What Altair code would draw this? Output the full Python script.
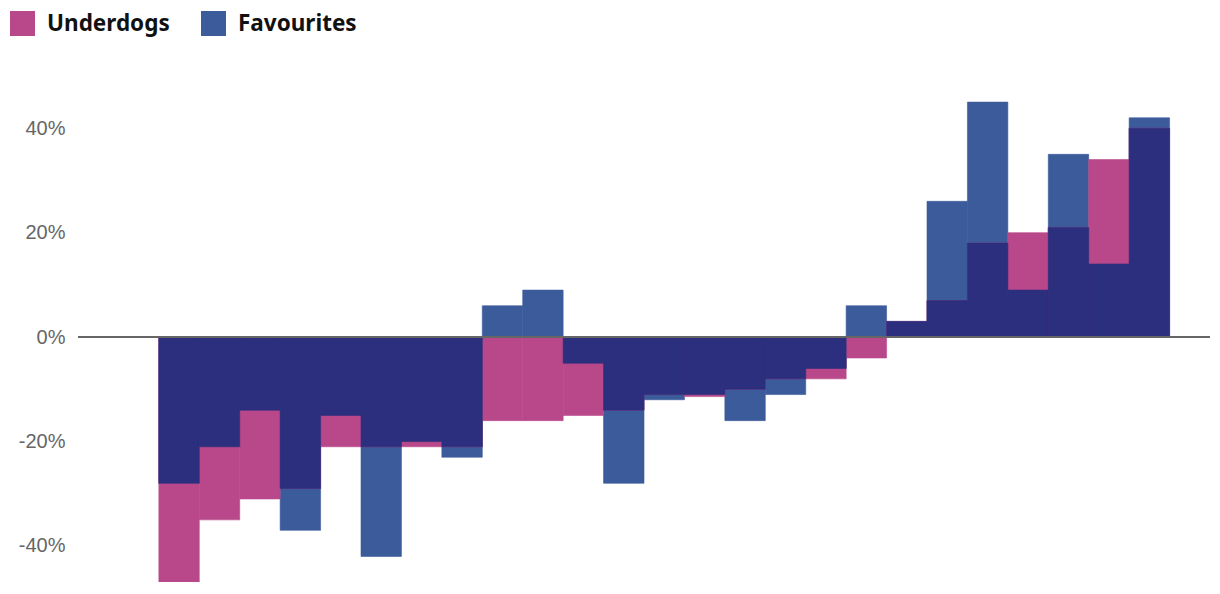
import altair as alt
import pandas as pd

# values in percent, one per column (left to right)
underdogs = [-47, -35, -31, -29, -21, -21, -21, -21, -16, -16, -15, -14, -11, -11.4,
             -10, -8, -8, -4, 3, 7, 18, 20, 21, 34, 40]
favourites = [-28, -21, -14, -37, -15, -42, -20, -23, 6, 9, -5, -28, -12, -11,
              -16, -11, -6, 6, 3, 26, 45, 9, 35, 14, 42]
y_ticks = [-40, -20, 0, 20, 40]

PINK = "#B9488A"
BLUE = "#3B5B9B"
NAVY = "#2B2F7E"

rows = []
overlap = []
for i, (u, f) in enumerate(zip(underdogs, favourites)):
    rows.append({"x": i, "x2": i + 1, "v": u, "series": "Underdogs"})
    rows.append({"x": i, "x2": i + 1, "v": f, "series": "Favourites"})
    if u * f > 0:
        m = min(abs(u), abs(f)) * (1 if u > 0 else -1)
        overlap.append({"x": i, "x2": i + 1, "v": m})

df = pd.DataFrame(rows)
df_ov = pd.DataFrame(overlap)

xscale = alt.Scale(domain=[-2, 26], nice=False, zero=False)
yscale = alt.Scale(domain=[-46.9, 50], nice=False)
cscale = alt.Scale(domain=["Underdogs", "Favourites"], range=[PINK, BLUE])

bars = alt.Chart(df).mark_rect(strokeWidth=0.6, clip=True).encode(
    x=alt.X("x:Q", scale=xscale, axis=None),
    x2="x2:Q",
    y=alt.Y("v:Q", scale=yscale,
            axis=alt.Axis(values=y_ticks, labelExpr="datum.value + '%'",
                          domain=False, ticks=False, grid=False, title=None,
                          labelFontSize=20, labelColor="#666666",
                          labelFont="Liberation Sans", labelPadding=13)),
    y2=alt.datum(0),
    color=alt.Color("series:N", scale=cscale,
                    legend=alt.Legend(orient="none", legendX=-68, legendY=-65,
                                      direction="horizontal", title=None,
                                      symbolType="square", symbolSize=625,
                                      symbolStrokeWidth=0, symbolOpacity=1,
                                      labelFontSize=22.5, labelFontWeight="bold",
                                      labelFont="Noto Sans", labelColor="#111111",
                                      columnPadding=31, labelOffset=12)),
    stroke=alt.Stroke("series:N", scale=cscale, legend=None),
    order=alt.Order("series:N"),
)

ov = alt.Chart(df_ov).mark_rect(color=NAVY, stroke=NAVY, strokeWidth=0.6, clip=True).encode(
    x=alt.X("x:Q", scale=xscale),
    x2="x2:Q",
    y=alt.Y("v:Q", scale=yscale),
    y2=alt.datum(0),
)

zero = alt.Chart(pd.DataFrame({"y": [0]})).mark_rule(color="#666666", strokeWidth=2).encode(
    y=alt.Y("y:Q", scale=yscale)
)

chart = alt.layer(bars, ov, zero).properties(
    width=1132, height=506,
    padding={"left": 70, "top": 68, "right": 0, "bottom": 0},
    autosize=alt.AutoSizeParams(type="none"),
).configure_view(stroke=None)

chart.save("out.html", embed_options={"renderer": "svg", "actions": False})
